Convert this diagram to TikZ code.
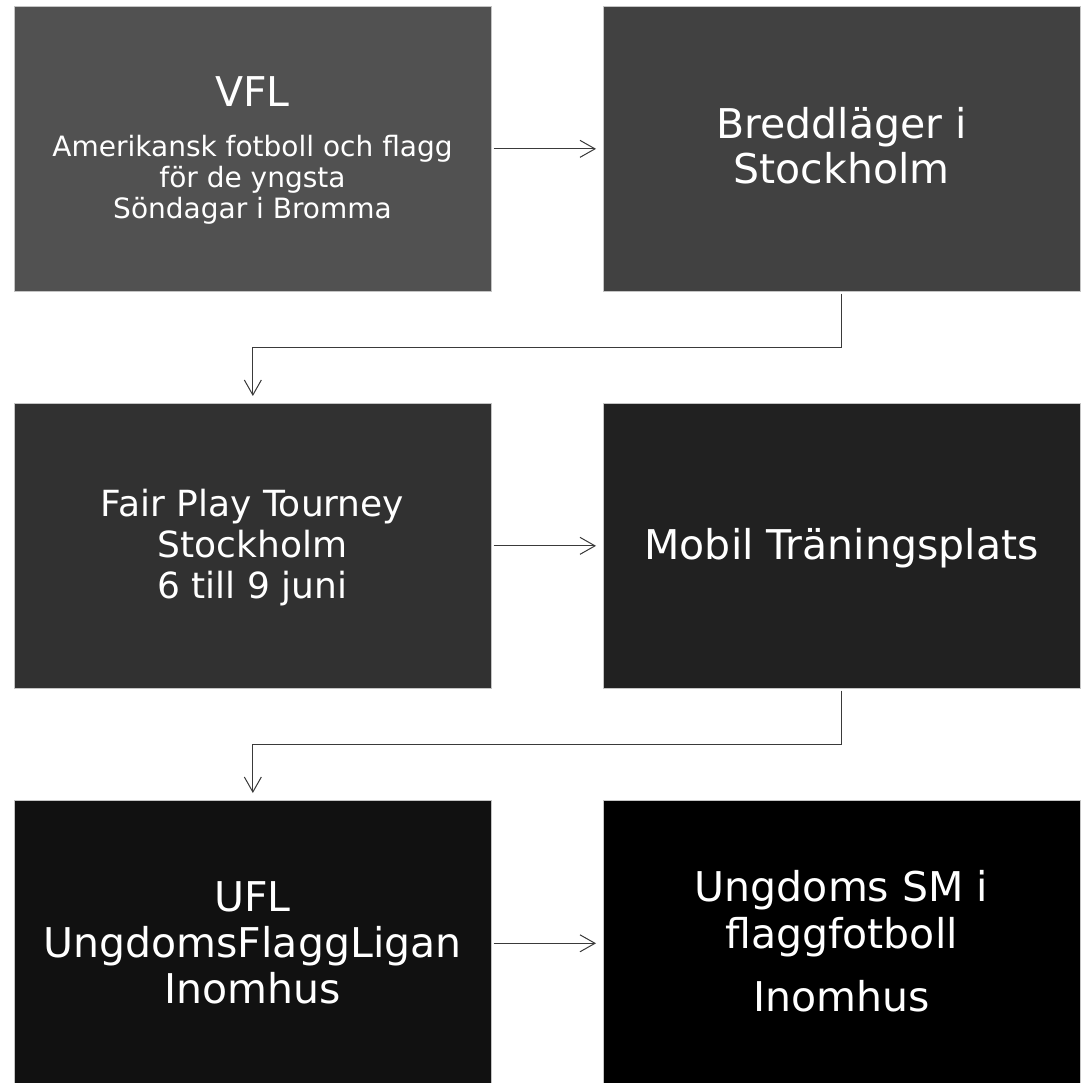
\documentclass[tikz,border=0pt]{standalone}
\usepackage{fontspec}
\setmainfont{DejaVu Sans}
\usetikzlibrary{arrows.meta}
\definecolor{c1}{HTML}{515151}
\definecolor{c2}{HTML}{414141}
\definecolor{c3}{HTML}{313131}
\definecolor{c4}{HTML}{212121}
\definecolor{c5}{HTML}{111111}
\definecolor{c6}{HTML}{000000}
\definecolor{edge}{HTML}{C4C4C4}
\definecolor{linec}{HTML}{3A3A3A}
\begin{document}
\begin{tikzpicture}[x=1pt,y=-1pt,
  box/.style={draw=edge, line width=0.7pt, minimum width=477pt, minimum height=285pt, inner sep=0pt, anchor=north west},
  txt/.style={text=white, anchor=base, inner sep=0pt},
  big/.style={txt, font=\fontsize{41}{48}\selectfont},
  mid/.style={txt, font=\fontsize{36}{42}\selectfont},
  small/.style={txt, font=\fontsize{28}{31}\selectfont},
  conn/.style={draw=linec, line width=1pt, -{Straight Barb[length=15pt,width=17pt]}, shorten >=7pt, shorten <=2pt}]
\useasboundingbox[fill=white] (0,0) rectangle (1085,1083);
% boxes
\node[box, fill=c1] (b1) at (14,6) {};
\node[box, fill=c2] (b2) at (603,6) {};
\node[box, fill=c3] (b3) at (14,403) {};
\node[box, fill=c4] (b4) at (603,403) {};
\node[box, fill=c5] (b5) at (14,800) {};
\node[box, fill=c6] (b6) at (603,800) {};
% texts box 1
\node[big] (t1a) at (252.5,107) {VFL};
\node[small] (t1b) at (252.5,157) {Amerikansk fotboll och flagg};
\node[small] (t1c) at (252.5,188) {för de yngsta};
\node[small] (t1d) at (252.5,218.5) {Söndagar i Bromma};
% box 2
\node[big] (t2a) at (841.5,138.3) {Breddläger i};
\node[big] (t2b) at (841.5,184) {Stockholm};
% box 3
\node[mid] (t3a) at (252.5,516.7) {Fair Play Tourney};
\node[mid] (t3b) at (252.5,557.3) {Stockholm};
\node[mid] (t3c) at (252.5,598.3) {6 till 9 juni};
% box 4
\node[big] (t4a) at (841.5,559.3) {Mobil Träningsplats};
% box 5
\node[big] (t5a) at (252.5,911.7) {UFL};
\node[big] (t5b) at (252.5,957.3) {UngdomsFlaggLigan};
\node[big] (t5c) at (252.5,1003.3) {Inomhus};
% box 6
\node[big] (t6a) at (841.5,901.7) {Ungdoms SM i};
\node[big] (t6b) at (841.5,948.3) {flaggfotboll};
\node[big] (t6c) at (841.5,1011.7) {Inomhus};
% connectors
\draw[conn] (b1.east) -- (b2.west);
\draw[conn] (b3.east) -- (b4.west);
\draw[conn] (b5.east |- t5b.base) ++(0,-14) coordinate (s5) (s5) -- (s5 -| b6.west);
\draw[conn] (b2.south) -- ++(0,56) -| (b3.north);
\draw[conn] (b4.south) -- ++(0,56) -| (b5.north);
\end{tikzpicture}
\end{document}
